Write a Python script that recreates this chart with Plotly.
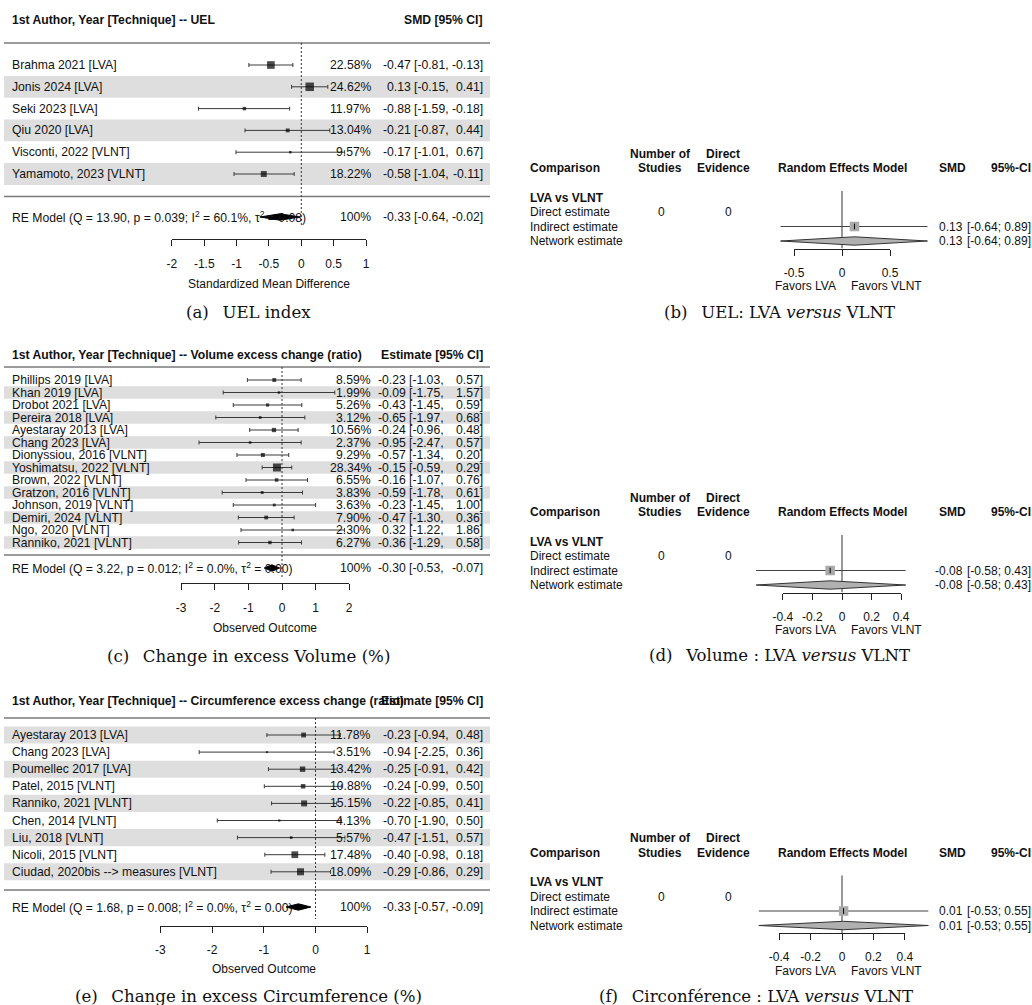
import plotly.graph_objects as go

# ---------------- data ----------------
# (a) UEL index
uel_studies = ["Brahma 2021 [LVA]", "Jonis 2024 [LVA]", "Seki 2023 [LVA]", "Qiu 2020 [LVA]",
               "Visconti, 2022 [VLNT]", "Yamamoto, 2023 [VLNT]"]
uel_est = [-0.47, 0.13, -0.88, -0.21, -0.17, -0.58]
uel_lo = [-0.81, -0.15, -1.59, -0.87, -1.01, -1.04]
uel_hi = [-0.13, 0.41, -0.18, 0.44, 0.67, -0.11]
uel_wt = [22.58, 24.62, 11.97, 13.04, 9.57, 18.22]
uel_re = [-0.33, -0.64, -0.02]
uel_re_text = "RE Model (Q = 13.90, p = 0.039; I<sup>2</sup> = 60.1%, τ<sup>2</sup> = 0.08)"
uel_ticks = [-2, -1.5, -1, -0.5, 0, 0.5, 1]

# (c) change in excess volume
vol_studies = ["Phillips 2019 [LVA]", "Khan 2019 [LVA]", "Drobot 2021 [LVA]", "Pereira 2018 [LVA]",
               "Ayestaray 2013 [LVA]", "Chang 2023 [LVA]", "Dionyssiou, 2016 [VLNT]",
               "Yoshimatsu, 2022 [VLNT]", "Brown, 2022 [VLNT]", "Gratzon, 2016 [VLNT]",
               "Johnson, 2019 [VLNT]", "Demiri, 2024 [VLNT]", "Ngo, 2020 [VLNT]", "Ranniko, 2021 [VLNT]"]
vol_est = [-0.23, -0.09, -0.43, -0.65, -0.24, -0.95, -0.57, -0.15, -0.16, -0.59, -0.23, -0.47, 0.32, -0.36]
vol_lo = [-1.03, -1.75, -1.45, -1.97, -0.96, -2.47, -1.34, -0.59, -1.07, -1.78, -1.45, -1.30, -1.22, -1.29]
vol_hi = [0.57, 1.57, 0.59, 0.68, 0.48, 0.57, 0.20, 0.29, 0.76, 0.61, 1.00, 0.36, 1.86, 0.58]
vol_wt = [8.59, 1.99, 5.26, 3.12, 10.56, 2.37, 9.29, 28.34, 6.55, 3.83, 3.63, 7.90, 2.30, 6.27]
vol_re = [-0.30, -0.53, -0.07]
vol_re_text = "RE Model (Q = 3.22, p = 0.012; I<sup>2</sup> = 0.0%, τ<sup>2</sup> = 0.00)"
vol_ticks = [-3, -2, -1, 0, 1, 2]

# (e) change in excess circumference
circ_studies = ["Ayestaray 2013 [LVA]", "Chang 2023 [LVA]", "Poumellec 2017 [LVA]", "Patel, 2015 [VLNT]",
                "Ranniko, 2021 [VLNT]", "Chen, 2014 [VLNT]", "Liu, 2018 [VLNT]", "Nicoli, 2015 [VLNT]",
                "Ciudad, 2020bis --> measures [VLNT]"]
circ_est = [-0.23, -0.94, -0.25, -0.24, -0.22, -0.70, -0.47, -0.40, -0.29]
circ_lo = [-0.94, -2.25, -0.91, -0.99, -0.85, -1.90, -1.51, -0.98, -0.86]
circ_hi = [0.48, 0.36, 0.42, 0.50, 0.41, 0.50, 0.57, 0.18, 0.29]
circ_wt = [11.78, 3.51, 13.42, 10.88, 15.15, 4.13, 5.57, 17.48, 18.09]
circ_re = [-0.33, -0.57, -0.09]
circ_re_text = "RE Model (Q = 1.68, p = 0.008; I<sup>2</sup> = 0.0%, τ<sup>2</sup> = 0.00)"
circ_ticks = [-3, -2, -1, 0, 1]

# (b), (d), (f) network meta-analysis, LVA vs VLNT (UEL, volume, circumference)
net_est = [0.13, -0.08, 0.01]
net_lo = [-0.64, -0.58, -0.53]
net_hi = [0.89, 0.43, 0.55]
net_n_studies = [0, 0, 0]
net_direct = [0, 0, 0]
net_rows = ["Direct estimate", "Indirect estimate", "Network estimate"]
net_ticks_uel = [-0.5, 0, 0.5]
net_ticks_vol = [-0.4, -0.2, 0, 0.2, 0.4]
net_ticks_circ = [-0.4, -0.2, 0, 0.2, 0.4]

# ---------------- styling / page geometry ----------------
W, H = 1032, 1005
SANS = "Liberation Sans, Arial, Helvetica, sans-serif"
SERIF = "DejaVu Serif, serif"
INK = "#111111"
AXIS = "#222222"
BAND = "#dedede"
RULE = "#7a7a7a"
WHISK = "#3a3a3a"
FS = 12.2          # body text size of the forest tables
CAP = 16.6         # caption size

layout = dict(width=W, height=H, template="none",
              margin=dict(l=0, r=0, t=0, b=0, pad=0, autoexpand=False),
              paper_bgcolor="white", plot_bgcolor="rgba(0,0,0,0)", showlegend=False,
              font=dict(family=SANS, size=12, color=INK), hovermode=False)
# pixel canvas used to place text, bands and rules
layout["xaxis"] = dict(domain=[0, 1], range=[0, W], visible=False, fixedrange=True, automargin=False)
layout["yaxis"] = dict(domain=[0, 1], range=[H, 0], visible=False, fixedrange=True, automargin=False)

traces = [go.Scatter(x=[0], y=[0], mode="markers", marker=dict(opacity=0), xaxis="x", yaxis="y")]
annotations = []
shapes = []
_ax = [1]


def new_id():
    _ax[0] += 1
    return _ax[0]


def label(x, y, s, anchor="left", size=FS, bold=False, family=SANS, color=INK):
    if bold:
        s = f"<b>{s}</b>"
    annotations.append(dict(x=x, y=y, xref="x", yref="y", text=s, showarrow=False,
                            xanchor=anchor, yanchor="middle", borderpad=0, borderwidth=0,
                            font=dict(family=family, size=size, color=color)))


def hline(x1, x2, y, color, width):
    shapes.append(dict(type="line", xref="x", yref="y", x0=x1, x1=x2, y0=y, y1=y,
                       line=dict(color=color, width=width), layer="below"))


def band(x1, x2, y1, y2, color):
    shapes.append(dict(type="rect", xref="x", yref="y", x0=x1, x1=x2, y0=y1, y1=y2,
                       fillcolor=color, line=dict(width=0), layer="below"))


def panel_axes(x0, scale, top, bottom, row0, dy, ticks, axis_y, standoff):
    """Data x-axis + row y-axis for the marks, plus a visible axis spanning the ticks."""
    i = new_id()
    layout[f"xaxis{i}"] = dict(domain=[0, 1], range=[-x0 / scale, (W - x0) / scale],
                               visible=False, fixedrange=True, automargin=False)
    layout[f"yaxis{i}"] = dict(domain=[1 - bottom / H, 1 - top / H],
                               range=[(bottom - row0) / dy, (top - row0) / dy],
                               visible=False, fixedrange=True, automargin=False)
    j = new_id()
    tmin, tmax = min(ticks), max(ticks)
    layout[f"xaxis{j}"] = dict(
        domain=[(x0 + scale * tmin) / W, (x0 + scale * tmax) / W], range=[tmin, tmax],
        anchor="free", position=1 - axis_y / H, side="bottom", automargin=False,
        showline=True, linecolor=AXIS, linewidth=1,
        ticks="outside", ticklen=6, tickwidth=1, tickcolor=AXIS,
        tickmode="array", tickvals=ticks, ticktext=[f"{t:g}" for t in ticks],
        tickfont=dict(family=SANS, size=12, color=INK), ticklabelstandoff=standoff,
        showgrid=False, zeroline=False, fixedrange=True)
    traces.append(go.Scatter(x=[tmin, tmax], y=[(top - row0) / dy] * 2, mode="markers",
                             marker=dict(opacity=0), xaxis=f"x{j}", yaxis=f"y{i}"))
    return f"x{i}", f"y{i}", (lambda p: (p - row0) / dy)


def forest(g, studies, est, lo, hi, wt, re, re_text, ticks, head_l, head_r, xtitle, caption):
    n = len(studies)
    x0, s, row0, dy = g["x0"], g["s"], g["row0"], g["dy"]
    xa, ya, u = panel_axes(x0, s, g["rule_top"] - 4, g["axis_y"], row0, dy, ticks,
                           g["axis_y"], g["standoff"])

    label(12, g["head_y"], head_l, bold=True)
    label(483, g["head_y"], head_r, "right", bold=True)
    hline(4, 490, g["rule_top"], RULE, 1.7)
    hline(4, 490, g["rule_bot"], RULE, 1.7)

    for i in range(n):
        yp = row0 + i * dy
        if (n - 1 - i) % 2 == 0:
            band(4, 490, yp - dy / 2, yp + dy / 2, BAND)
        label(12, yp, studies[i])
        label(371, yp, f"{wt[i]:.2f}%", "right")
        label(g["est_r"], yp, f"{est[i]:.2f}", "right")
        label(g["lo_r"], yp, f"[{lo[i]:.2f},", "right")
        label(483, yp, f"{hi[i]:.2f}]", "right")

    # null-effect reference line
    traces.append(go.Scatter(x=[0, 0], y=[u(g["rule_top"]), u(g["zero_end"])], mode="lines",
                             line=dict(color="#333333", width=1, dash="2px,2px"),
                             xaxis=xa, yaxis=ya))

    wmin, wmax = min(wt), max(wt)
    sizes = [g["smin"] + (g["smax"] - g["smin"]) * (w - wmin) / (wmax - wmin) for w in wt]
    traces.append(go.Scatter(
        x=est, y=list(range(n)), mode="markers",
        marker=dict(symbol="square", size=sizes, color="black", line=dict(width=0)),
        error_x=dict(type="data", symmetric=False,
                     array=[h - e for h, e in zip(hi, est)],
                     arrayminus=[e - l for e, l in zip(est, lo)],
                     color=WHISK, thickness=1, width=2),
        xaxis=xa, yaxis=ya))

    # pooled random-effects diamond
    yr = u(g["re_y"])
    hh = 3.2 / dy
    traces.append(go.Scatter(x=[re[1], re[0], re[2], re[0], re[1]],
                             y=[yr, yr - hh, yr, yr + hh, yr], mode="lines", fill="toself",
                             fillcolor="black", line=dict(color="black", width=1),
                             xaxis=xa, yaxis=ya))
    label(12, g["re_y"], re_text)
    label(371, g["re_y"], "100%", "right")
    label(g["est_r"], g["re_y"], f"{re[0]:.2f}", "right")
    label(g["lo_r"], g["re_y"], f"[{re[1]:.2f},", "right")
    label(483, g["re_y"], f"{re[2]:.2f}]", "right")

    label(x0 + s * (min(ticks) + max(ticks)) / 2, g["title_y"], xtitle, "center", size=12)
    label(248, g["cap_y"], caption, "center", size=CAP, family=SERIF)


def network(g, k, ticks, caption):
    Y0, dy, x0, s = g["Y0"], 14.5, 842, g["s"]
    axis_y = Y0 + 51
    xa, ya, u = panel_axes(x0, s, Y0 - 12, axis_y, Y0, dy, ticks, axis_y, g["standoff"])
    est, lo, hi = net_est[k], net_lo[k], net_hi[k]

    hy1, hy2 = Y0 - 44, Y0 - 29.5
    label(530, hy2, "Comparison", bold=True, size=12)
    label(660, hy1, "Number of", "center", bold=True, size=12)
    label(660, hy2, "Studies", "center", bold=True, size=12)
    label(723, hy1, "Direct", "center", bold=True, size=12)
    label(723, hy2, "Evidence", "center", bold=True, size=12)
    label(842, hy2, "Random Effects Model", "center", bold=True, size=12)
    label(952, hy2, "SMD", "center", bold=True, size=12)
    label(1031, hy2, "95%-CI", "right", bold=True, size=12)

    label(530, Y0, "LVA vs VLNT", bold=True, size=12)
    for r, name in enumerate(net_rows, start=1):
        label(530, Y0 + r * dy, name, size=12)
    label(661, Y0 + dy, str(net_n_studies[k]), "center", size=12)
    label(728, Y0 + dy, str(net_direct[k]), "center", size=12)

    # line of no effect
    traces.append(go.Scatter(x=[0, 0], y=[-0.45, u(axis_y)], mode="lines",
                             line=dict(color="#333333", width=1), xaxis=xa, yaxis=ya))
    # indirect estimate
    traces.append(go.Scatter(x=[lo, hi], y=[2, 2], mode="lines",
                             line=dict(color="#444444", width=1), xaxis=xa, yaxis=ya))
    traces.append(go.Scatter(x=[est], y=[2], mode="markers",
                             marker=dict(symbol="square", size=9.5, color="#a9a9a9", line=dict(width=0)),
                             xaxis=xa, yaxis=ya))
    traces.append(go.Scatter(x=[est], y=[2], mode="markers",
                             marker=dict(symbol="line-ns", size=4, line=dict(width=1, color="black")),
                             xaxis=xa, yaxis=ya))
    # network estimate diamond
    hh = 4.2 / dy
    traces.append(go.Scatter(x=[lo, est, hi, est, lo], y=[3, 3 - hh, 3, 3 + hh, 3], mode="lines",
                             fill="toself", fillcolor="#b0b0b0", line=dict(color="#333333", width=1),
                             xaxis=xa, yaxis=ya))
    for r in (2, 3):
        label(963, Y0 + r * dy, f"{est:.2f}", "right", size=12)
        label(1031, Y0 + r * dy, f"[{lo:.2f}; {hi:.2f}]", "right", size=12)

    label(836, Y0 + 88.5, "Favors LVA", "right", size=12)
    label(851, Y0 + 88.5, "Favors VLNT", "left", size=12)
    label(g["cap_x"], g["cap_y"], caption, "center", size=CAP, family=SERIF)


forest(dict(x0=301.3, s=64.7, head_y=20, rule_top=43, row0=65, dy=21.8, rule_bot=196.5,
            re_y=217, zero_end=227, axis_y=239, standoff=8, title_y=284, cap_y=312,
            est_r=410.5, lo_r=448.5, smin=2.5, smax=8.5),
       uel_studies, uel_est, uel_lo, uel_hi, uel_wt, uel_re, uel_re_text, uel_ticks,
       "1st Author, Year [Technique] -- UEL", "SMD [95% CI]",
       "Standardized Mean Difference", "(a)\u2002 UEL index")

forest(dict(x0=282, s=33.6, head_y=355, rule_top=367, row0=380, dy=12.5, rule_bot=555,
            re_y=568, zero_end=578, axis_y=583, standoff=8, title_y=628, cap_y=656,
            est_r=405.5, lo_r=444, smin=2.5, smax=8),
       vol_studies, vol_est, vol_lo, vol_hi, vol_wt, vol_re, vol_re_text, vol_ticks,
       "1st Author, Year [Technique] -- Volume excess change (ratio)", "Estimate [95% CI]",
       "Observed Outcome", "(c)\u2002 Change in excess Volume (%)")

forest(dict(x0=315.5, s=51.7, head_y=701, rule_top=718, row0=735, dy=17.1, rule_bot=890,
            re_y=907, zero_end=919, axis_y=926, standoff=7, title_y=969, cap_y=996,
            est_r=410.5, lo_r=448.5, smin=2, smax=7),
       circ_studies, circ_est, circ_lo, circ_hi, circ_wt, circ_re, circ_re_text, circ_ticks,
       "1st Author, Year [Technique] -- Circumference excess change (ratio)", "Estimate [95% CI]",
       "Observed Outcome", "(e)\u2002 Change in excess Circumference (%)")

network(dict(Y0=197.5, s=96, standoff=7, cap_x=779, cap_y=312), 0, net_ticks_uel,
        "(b)\u2002 UEL: LVA <i>versus</i> VLNT")
network(dict(Y0=541.5, s=148, standoff=7, cap_x=779, cap_y=655), 1, net_ticks_vol,
        "(d)\u2002 Volume : LVA <i>versus</i> VLNT")
network(dict(Y0=882, s=157, standoff=7, cap_x=756, cap_y=996), 2, net_ticks_circ,
        "(f)\u2002 Circonférence : LVA <i>versus</i> VLNT")

for t in traces:
    t.update(hoverinfo="skip", showlegend=False)
fig = go.Figure(data=traces)
layout["annotations"] = annotations
layout["shapes"] = shapes
fig.update_layout(**layout)
fig.write_html("out.html", post_script="document.body.style.margin='0';")
